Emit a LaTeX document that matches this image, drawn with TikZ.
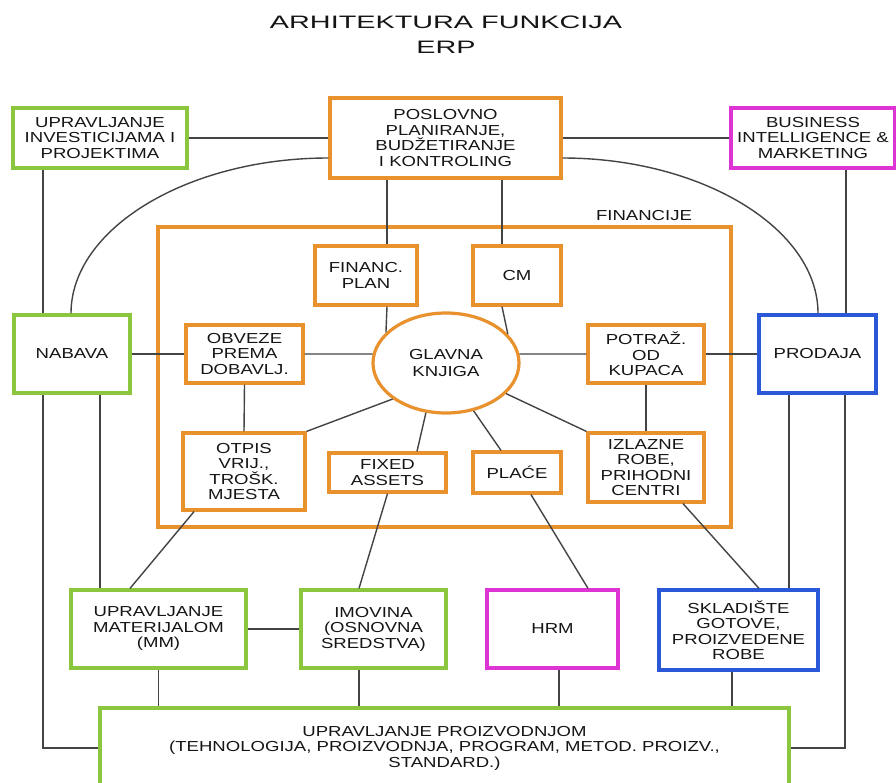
\documentclass[tikz,border=0pt]{standalone}
\usepackage{fontspec}
\setmainfont{Liberation Sans}[FakeStretch=1.28]
\newfontfamily\titlefont{Liberation Sans}[FakeStretch=1.6]
\usetikzlibrary{shapes.geometric}
\definecolor{cor}{HTML}{E8912D}
\definecolor{cgr}{HTML}{8CC63E}
\definecolor{cmg}{HTML}{DE34D4}
\definecolor{cbl}{HTML}{2A58D6}
\definecolor{cln}{HTML}{444444}
\definecolor{ctx}{HTML}{151515}
\tikzset{
  box/.style={draw, rectangle, line width=3.2pt, fill=white, align=center, inner sep=0pt,
    text=ctx, font=\fontsize{14.5}{15.5}\selectfont},
  obox/.style={box, draw=cor},
  gbox/.style={box, draw=cgr},
  mbox/.style={box, draw=cmg},
  bbox/.style={box, draw=cbl},
  conn/.style={draw=cln, line width=1.4pt},
}
\begin{document}
\begin{tikzpicture}[x=1pt,y=-1pt]
\useasboundingbox (0,0) rectangle (896,782);
\fill[white] (0,0) rectangle (896,782);
% title
\node[text=ctx, align=center, font=\titlefont\fontsize{18}{25}\selectfont] (title) at (446,35) {ARHITEKTURA FUNKCIJA\\ERP};
% financije frame
\node[draw=cor, line width=3.2pt, rectangle, minimum width=573pt, minimum height=300pt, inner sep=0pt] (fin) at (444.5,377) {};
\node[text=ctx, font=\fontsize{14.5}{15.5}\selectfont] (finl) at (644,216) {FINANCIJE};
% top row
\node[gbox, minimum width=174pt, minimum height=60pt] (inv) at (100,138) {UPRAVLJANJE\\INVESTICIJAMA I\\PROJEKTIMA};
\node[obox, minimum width=231pt, minimum height=80pt] (pos) at (445.5,138) {POSLOVNO\\PLANIRANJE,\\BUDŽETIRANJE\\I KONTROLING};
\node[mbox, minimum width=164pt, minimum height=60pt] (bi) at (813,138) {BUSINESS\\INTELLIGENCE \&\\MARKETING};
% financije inner
\node[obox, minimum width=102pt, minimum height=59pt] (fp) at (366,275.5) {FINANC.\\PLAN};
\node[obox, minimum width=88pt, minimum height=59pt] (cm) at (517,275.5) {CM};
\node[gbox, minimum width=116pt, minimum height=78pt] (nab) at (72,354) {NABAVA};
\node[obox, minimum width=117pt, minimum height=58pt] (obv) at (244.5,354) {OBVEZE\\PREMA\\DOBAVLJ.};
\node[ellipse, draw=cor, line width=3.2pt, fill=white, minimum width=146pt, minimum height=100pt, inner sep=0pt, align=center, text=ctx, font=\fontsize{14.5}{16.5}\selectfont] (gk) at (446,363) {GLAVNA\\KNJIGA};
\node[obox, minimum width=116pt, minimum height=58pt] (pot) at (646,354) {POTRAŽ.\\OD\\KUPACA};
\node[bbox, minimum width=117pt, minimum height=78pt] (pro) at (817.5,354) {PRODAJA};
\node[obox, minimum width=122pt, minimum height=77pt] (otp) at (244,471.5) {OTPIS\\VRIJ.,\\TROŠK.\\MJESTA};
\node[obox, minimum width=117pt, minimum height=39pt] (fa) at (387.5,472.5) {FIXED\\ASSETS};
\node[obox, minimum width=88pt, minimum height=41pt] (pl) at (517,472.5) {PLAĆE};
\node[obox, minimum width=116pt, minimum height=69pt] (izl) at (646,467.5) {IZLAZNE\\ROBE,\\PRIHODNI\\CENTRI};
% lower row
\node[gbox, minimum width=175pt, minimum height=78pt] (mm) at (158.5,629) {UPRAVLJANJE\\MATERIJALOM\\(MM)};
\node[gbox, minimum width=145pt, minimum height=78pt] (imo) at (373.5,629) {IMOVINA\\(OSNOVNA\\SREDSTVA)};
\node[mbox, minimum width=131pt, minimum height=78pt] (hrm) at (552.5,629) {HRM};
\node[bbox, minimum width=159pt, minimum height=80pt] (skl) at (738.5,630) {SKLADIŠTE\\GOTOVE,\\PROIZVEDENE\\ROBE};
\node[gbox, minimum width=689pt, minimum height=80pt] (prz) at (444.5,748) {UPRAVLJANJE PROIZVODNJOM\\(TEHNOLOGIJA, PROIZVODNJA, PROGRAM, METOD. PROIZV.,\\STANDARD.)};
% connectors
\draw[conn] (inv.east) -- (pos.west);
\draw[conn] (pos.east) -- (bi.west);
\draw[conn] (43,0 |- inv.south) -- (43,0 |- nab.north);
\draw[conn] (43,0 |- nab.south) |- (prz.west);
\draw[conn] (pos.west |- 0,158) .. controls (187.5,158) and (71,228.6) .. (71,0 |- nab.north);
\draw[conn] (pos.east |- 0,158) .. controls (702,158) and (818,228.6) .. (818,0 |- pro.north);
\draw[conn] (846,0 |- bi.south) -- (846,0 |- pro.north);
\draw[conn] (845,0 |- pro.south) |- (prz.east);
\draw[conn] (789,0 |- pro.south) -- (789,0 |- skl.north);
\draw[conn] (100,0 |- nab.south) -- (100,0 |- mm.north);
\draw[conn] (387,0 |- pos.south) -- (387,0 |- fp.north);
\draw[conn] (502,0 |- pos.south) -- (502,0 |- cm.north);
\draw[conn] (387,0 |- fp.south) -- (gk.153.4);
\draw[conn] (502,0 |- cm.south) -- (gk.25.5);
\draw[conn] (nab.east) -- (obv.west);
\draw[conn] (obv.east) -- (gk.173);
\draw[conn] (gk.7) -- (pot.west);
\draw[conn] (pot.east) -- (pro.west);
\draw[conn] (obv.south) -- (otp.north);
\draw[conn] (pot.south) -- (izl.north);
\draw[conn] (gk.214) -- (otp.north east);
\draw[conn] (gk.248) -- (417,0 |- fa.north);
\draw[conn] (gk.300) -- (501,0 |- pl.north);
\draw[conn] (gk.333) -- (izl.north west);
\draw[conn] (194,0 |- otp.south) -- (130,0 |- mm.north);
\draw[conn] (fa.south) -- (359,0 |- imo.north);
\draw[conn] (531,0 |- pl.south) -- (588,0 |- hrm.north);
\draw[conn] (683,0 |- izl.south) -- (759,0 |- skl.north);
\draw[conn] (mm.east) -- (imo.west);
\draw[conn] (mm.south) -- (mm.south |- prz.north);
\draw[conn] (359,0 |- imo.south) -- (359,0 |- prz.north);
\draw[conn] (559,0 |- hrm.south) -- (559,0 |- prz.north);
\draw[conn] (732,0 |- skl.south) -- (732,0 |- prz.north);
\end{tikzpicture}
\end{document}
